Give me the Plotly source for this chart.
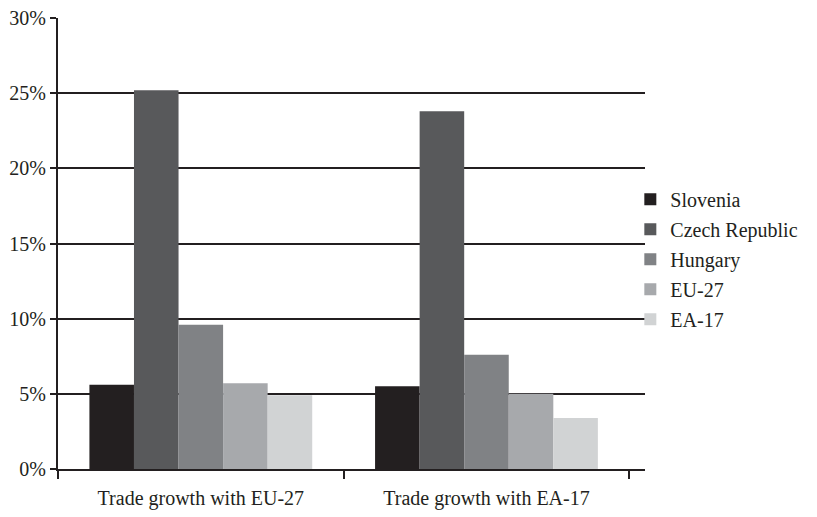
import plotly.graph_objects as go

categories = ["Trade growth with EU-27", "Trade growth with EA-17"]
series_names = ["Slovenia", "Czech Republic", "Hungary", "EU-27", "EA-17"]
slovenia = [5.6, 5.5]
czech_republic = [25.2, 23.8]
hungary = [9.6, 7.6]
eu27 = [5.7, 5.0]
ea17 = [4.9, 3.4]
y_ticks = [0, 5, 10, 15, 20, 25, 30]
y_tick_labels = ["0%", "5%", "10%", "15%", "20%", "25%", "30%"]

series_values = [slovenia, czech_republic, hungary, eu27, ea17]
colors = ["#231f20", "#58595b", "#808285", "#a7a9ac", "#d1d3d4"]
ink = "#231f20"
font_family = "Liberation Serif"

fig = go.Figure()
for name, vals, col in zip(series_names, series_values, colors):
    fig.add_trace(go.Bar(
        x=categories, y=vals, name=name, legendgroup=name,
        marker=dict(color=col, line=dict(width=0)),
    ))

fig.update_layout(
    width=817, height=517,
    margin=dict(l=58, r=172, t=18, b=48, autoexpand=False),
    paper_bgcolor="white", plot_bgcolor="white",
    barmode="group", bargap=0.22, bargroupgap=0,
    font=dict(family=font_family, size=20, color=ink),
    showlegend=True,
    legend=dict(
        x=0.975, xanchor="left", xref="paper",
        y=0.465, yanchor="middle",
        font=dict(family=font_family, size=20, color=ink),
        tracegroupgap=1, itemwidth=30,
        bgcolor="rgba(0,0,0,0)",
    ),
)

fig.update_xaxes(
    type="category", range=[-0.5, 1.555],
    showline=True, linewidth=2, linecolor=ink,
    ticks="outside", tickson="boundaries", ticklen=8, tickwidth=2, tickcolor=ink,
    ticklabelstandoff=10,
    tickfont=dict(family=font_family, size=20, color=ink),
    showgrid=False, zeroline=False,
)
fig.update_yaxes(
    range=[0, 30], tickvals=y_ticks, ticktext=y_tick_labels,
    showline=True, linewidth=2, linecolor=ink,
    ticks="outside", ticklen=6, tickwidth=2, tickcolor=ink,
    tickfont=dict(family=font_family, size=20, color=ink),
    showgrid=True, gridwidth=2, gridcolor=ink,
    zeroline=False,
)

fig.write_html("out.html")
